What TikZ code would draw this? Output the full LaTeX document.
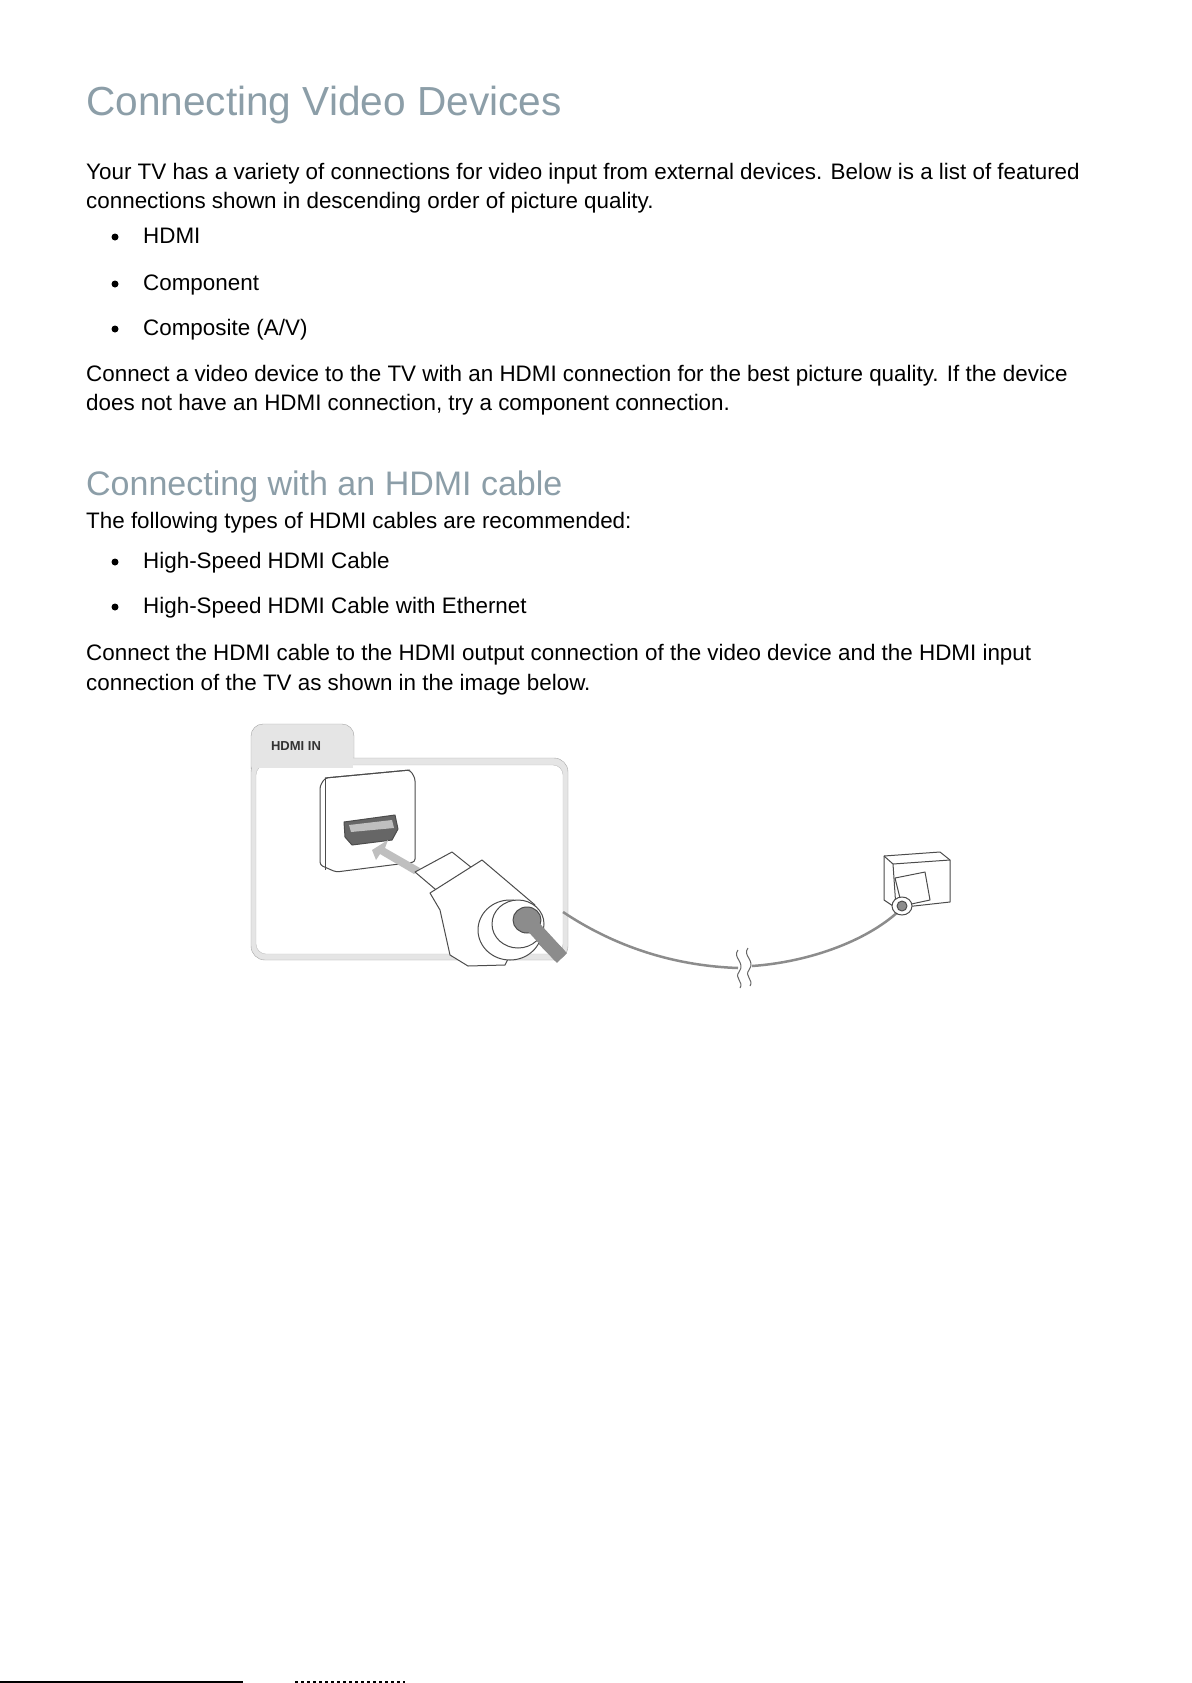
\documentclass[tikz,border=0pt]{standalone}
\usepackage{fontspec}
\setmainfont{Liberation Sans}
\definecolor{headc}{rgb}{0.55,0.62,0.66}
\definecolor{panelc}{rgb}{0.90,0.90,0.90}
\begin{document}
\begin{tikzpicture}[x=1pt,y=-1pt,
  body/.style={anchor=base west,inner sep=0,font=\fontsize{22.4}{26}\selectfont},
  head/.style={anchor=base west,inner sep=0,text=headc},
  bul/.style={circle,fill=black,inner sep=0,minimum size=7pt},
  outl/.style={draw=black!70,line width=1pt,line join=round}]
\useasboundingbox[fill=white] (0,0) rectangle (1191,1683);
\node[head,font=\fontsize{40.6}{48}\selectfont] (t1) at (86,116) {Connecting Video Devices};
\node[body] (p1) at (86,179) {Your TV has a variety of connections for video input from external devices. Below is a list of featured};
\node[body] (p2) at (86,208) {connections shown in descending order of picture quality.};
\node[bul] (b1) at (115,237) {}; \node[body] (l1) at (143,243) {HDMI};
\node[bul] (b2) at (115,284) {}; \node[body] (l2) at (143,290) {Component};
\node[bul] (b3) at (115,329) {}; \node[body] (l3) at (143,335) {Composite (A/V)};
\node[body] (p3) at (86,381) {Connect a video device to the TV with an HDMI connection for the best picture quality. If the device};
\node[body] (p4) at (86,410) {does not have an HDMI connection, try a component connection.};
\node[head,font=\fontsize{34}{40}\selectfont] (t2) at (86,495) {Connecting with an HDMI cable};
\node[body] (p5) at (86,528) {The following types of HDMI cables are recommended:};
\node[bul] (b4) at (115,562) {}; \node[body] (l4) at (143,568) {High-Speed HDMI Cable};
\node[bul] (b5) at (115,607) {}; \node[body] (l5) at (143,613) {High-Speed HDMI Cable with Ethernet};
\node[body] (p6) at (86,660) {Connect the HDMI cable to the HDMI output connection of the video device and the HDMI input};
\node[body] (p7) at (86,690) {connection of the TV as shown in the image below.};
% panel
\fill[panelc,draw=black!35,rounded corners=12pt] (251,724) rectangle (354,780);
\fill[panelc,draw=black!35,rounded corners=14pt] (251,758) rectangle (568,960);
\fill[white,draw=black!25,rounded corners=10pt] (256,765) rectangle (563,954);
\fill[panelc] (252,752) rectangle (353,768);
\node[font=\bfseries\fontsize{13}{15}\selectfont,text=black!80] (hin) at (296,746) {HDMI IN};
% port
\fill[white,outl,rounded corners=3pt] (325,778) -- (410,770) -- (415,778) -- (415,862) -- (336,872) -- (320,865) -- (320,786) -- cycle;
\draw[outl] (325,778) -- (325,870);
\draw[outl] (325,778) -- (410,770);
\fill[black!60,outl] (344,822) -- (395,815) -- (398,829) -- (392,840) -- (352,845) -- (345,837) -- cycle;
\fill[black!25] (349,825) -- (392,820) -- (394,828) -- (351,832) -- cycle;
% arrow
\fill[black!25] (372,850) -- (388,840) -- (385,848) -- (420,868) -- (414,874) -- (380,854) -- (376,860) -- cycle;
% cable near plug
\draw[black!45,line width=14pt,line cap=butt] (525,920) -- (562,958);
% plug
\fill[white,outl] (415,872) -- (452,852) -- (482,876) -- (448,900) -- cycle;
\fill[white,outl] (430,893) -- (482,860) -- (535,905) -- (505,965) -- (468,966) -- (450,955) -- (440,910) -- cycle;
\fill[white,outl] (510,930) ellipse[x radius=32pt,y radius=30pt];
\fill[white,outl] (518,924) ellipse[x radius=26pt,y radius=24pt];
\fill[black!45,outl] (527,920) ellipse[x radius=14pt,y radius=13pt];
\draw[black!45,line width=14pt] (527,920) -- (560,956);
% long cable
\coordinate (c1) at (563,912);
\coordinate (c2) at (902,908);
\draw[black!45,line width=2.5pt] (c1) .. controls (620,950) and (680,966) .. (738,968);
\draw[black!45,line width=2.5pt] (752,966) .. controls (810,962) and (870,940) .. (c2);
\draw[black!60,line width=1pt] (738,950) .. controls (732,958) and (746,962) .. (739,972) .. controls (734,978) and (744,982) .. (740,988);
\draw[black!60,line width=1pt] (748,948) .. controls (742,956) and (756,960) .. (749,970) .. controls (744,976) and (754,980) .. (750,986);
% right device
\fill[white,outl] (884,856) -- (940,852) -- (950,860) -- (950,902) -- (896,908) -- (884,900) -- cycle;
\draw[outl] (884,856) -- (893,864) -- (950,860);
\draw[outl] (893,864) -- (896,908);
\fill[white,outl] (895,878) -- (925,872) -- (930,900) -- (902,906) -- cycle;
\fill[white,outl] (902,906) ellipse[x radius=10pt,y radius=9pt];
\fill[black!45,outl] (902,906) ellipse[x radius=5pt,y radius=5pt];
% footer
\draw[black,line width=1.5pt] (0,1682) -- (243,1682);
\draw[black,line width=1.5pt,dashed] (295,1682) -- (405,1682);
\end{tikzpicture}
\end{document}
